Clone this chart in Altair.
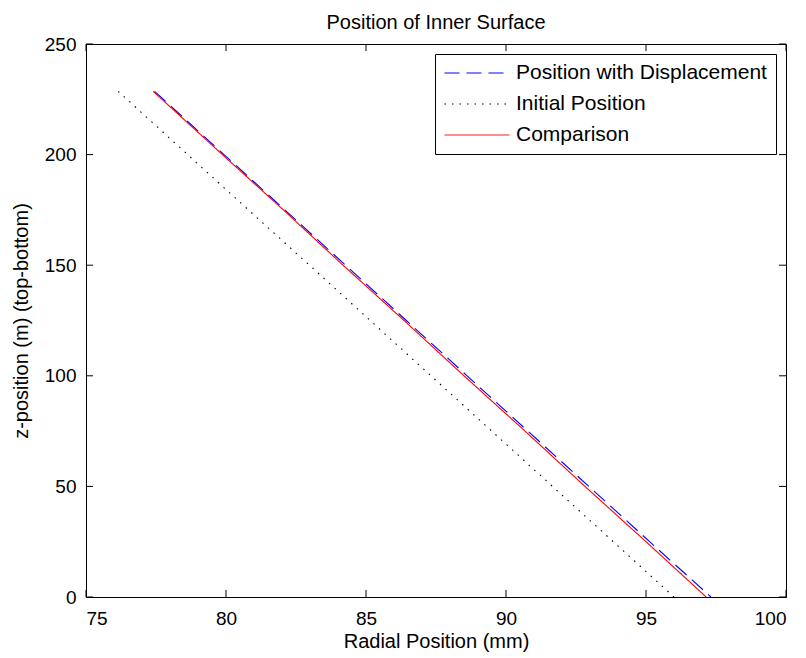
import altair as alt
import pandas as pd

FONT = "Liberation Sans"

series_names = ["Position with Displacement", "Initial Position", "Comparison"]
series_colors = ["#0000ff", "#000000", "#ff0000"]
series_dash = [[15, 7], [1.5, 6], [1, 0]]

z_values = [228.6, 200, 175, 150, 125, 100, 75, 50, 25, 0]
displaced_x = [77.45, 79.93, 82.10, 84.27, 86.44, 88.61, 90.78, 92.96, 95.13, 97.32]
initial_x = [76.15, 78.63, 80.80, 82.98, 85.15, 87.32, 89.49, 91.66, 93.83, 96.00]
comparison_x = [77.40, 79.87, 82.05, 84.18, 86.36, 88.50, 90.68, 92.82, 95.00, 97.15]

x_ticks = [75, 80, 85, 90, 95, 100]
y_ticks = [0, 50, 100, 150, 200, 250]

W, H = 700, 553

rows = []
for name, xs in zip(series_names, [displaced_x, initial_x, comparison_x]):
    for i, (x, z) in enumerate(zip(xs, z_values)):
        rows.append({"series": name, "r": x, "z": z, "i": i})
df = pd.DataFrame(rows)

xscale = alt.Scale(domain=[75, 100], nice=False, zero=False)
yscale = alt.Scale(domain=[0, 250], nice=False)

X_TITLE = "Radial Position (mm)"
Y_TITLE = "z-position (m) (top-bottom)"
x_axis = alt.Axis(values=x_ticks, ticks=False, tickSize=0, labelPadding=12,
                  titleY=50, titleBaseline="alphabetic", grid=False)
y_axis = alt.Axis(values=y_ticks, ticks=False, tickSize=0, labelPadding=10,
                  titleX=-59, titleY=H / 2, titleBaseline="alphabetic", grid=False)

legend = alt.Legend(
    title=None, orient="top-right", offset=10,
    symbolType="stroke", symbolSize=4225, symbolStrokeWidth=1, clipHeight=20,
    labelFont=FONT, labelFontSize=21, labelColor="black",
    strokeColor="black", fillColor="white", padding=9,
    rowPadding=10, labelOffset=6, labelLimit=400,
)

lines = alt.Chart(df).mark_line(strokeWidth=1.1).encode(
    x=alt.X("r:Q", scale=xscale, title=X_TITLE, axis=x_axis),
    y=alt.Y("z:Q", scale=yscale, title=Y_TITLE, axis=y_axis),
    color=alt.Color("series:N", scale=alt.Scale(domain=series_names, range=series_colors),
                    legend=legend),
    strokeDash=alt.StrokeDash("series:N", scale=alt.Scale(domain=series_names, range=series_dash),
                              legend=legend),
    order="i:Q",
)

xt = pd.DataFrame({"v": x_ticks})
yt = pd.DataFrame({"v": y_ticks})

xb = alt.Chart(xt).mark_rule(color="black", strokeWidth=1).encode(
    x=alt.X("v:Q", scale=xscale, title=X_TITLE, axis=x_axis), y=alt.value(H), y2=alt.value(H - 7))
xtp = alt.Chart(xt).mark_rule(color="black", strokeWidth=1).encode(
    x=alt.X("v:Q", scale=xscale, title=X_TITLE, axis=x_axis), y=alt.value(0), y2=alt.value(7))
yl = alt.Chart(yt).mark_rule(color="black", strokeWidth=1).encode(
    y=alt.Y("v:Q", scale=yscale, title=Y_TITLE, axis=y_axis), x=alt.value(0), x2=alt.value(7))
yr = alt.Chart(yt).mark_rule(color="black", strokeWidth=1).encode(
    y=alt.Y("v:Q", scale=yscale, title=Y_TITLE, axis=y_axis), x=alt.value(W), x2=alt.value(W - 7))

chart = alt.layer(lines, xb, xtp, yl, yr).properties(
    width=W, height=H,
    background="white",
    title=alt.TitleParams("Position of Inner Surface", font=FONT, fontSize=20,
                          fontWeight="normal", color="black", offset=2,
                          anchor="middle", frame="group"),
    autosize=alt.AutoSizeParams(type="none"),
    padding={"left": 78, "top": 36, "right": 10, "bottom": 60},
).configure_view(stroke="black", strokeWidth=1).configure_axis(
    grid=False, domainColor="black", domainWidth=1,
    labelFont=FONT, labelFontSize=19, labelColor="black",
    titleFont=FONT, titleFontSize=20, titleFontWeight="normal", titleColor="black",
)

chart.save("out.html", embed_options={"renderer": "svg", "actions": False})
